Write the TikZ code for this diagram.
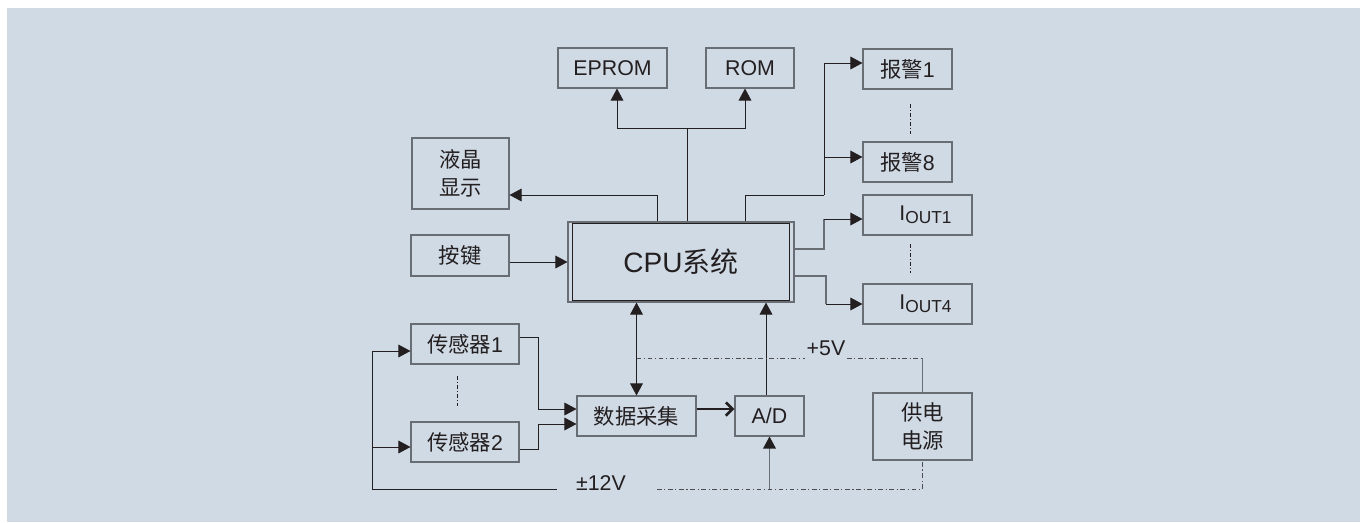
\documentclass[tikz,border=0pt]{standalone}
\usepackage{fontspec}
\setmainfont{Liberation Sans}
\newfontfamily\cjk{Noto Sans CJK SC}
\usetikzlibrary{arrows.meta,calc,positioning}
\definecolor{figBg}{RGB}{208,218,229}
\definecolor{figInk}{RGB}{35,31,32}
\definecolor{figLine}{RGB}{105,110,116}

\begin{document}
\begin{tikzpicture}[
  x=0.75pt,
  y=-0.75pt,
  >={Triangle[length=9pt,width=9.5pt]},
  font=\fontsize{16pt}{20.5pt}\selectfont,
  unit/.style={draw=figLine, line width=0.8pt, text=figInk, inner sep=0pt, minimum height=30pt, align=center},
  wire/.style={draw=figInk, line width=0.75pt},
  arr/.style={wire, ->},
  grey/.style={draw=figLine, line width=0.9pt},
  rail/.style={draw=figInk!80, line width=0.7pt, dash pattern=on 3.5pt off 2pt on 0.8pt off 2pt},
  elide/.style={draw=figInk, line width=0.6pt, dash pattern=on 3pt off 1.5pt on 0.8pt off 1.5pt},
  tag/.style={text=figInk, inner sep=1pt}
]
\useasboundingbox (0,0) rectangle (1360,522);
\fill[figBg] (7,8) rectangle (1360,522);

\node[unit, minimum width=81.75pt] (eprom) at (612.5,68) {EPROM};
\node[unit, minimum width=66pt] (rom) at (750,68) {ROM};
\node[unit, minimum width=72.75pt, minimum height=53.25pt] (lcd) at (460.5,173.5) {{\cjk 液晶}\\{\cjk 显示}};
\node[unit, minimum width=73.5pt, minimum height=30.75pt] (key) at (460,255.5) {\cjk 按键};
\node[unit, minimum width=169.5pt, minimum height=60pt, font=\fontsize{21pt}{24pt}\selectfont] (cpu) at (681,262) {CPU{\cjk 系统}};
\draw[wire] ($(cpu.north west)+(5,2)$) rectangle ($(cpu.south east)+(-5,-2)$);

\node[unit, minimum width=66.75pt] (al1) at (907.5,69) {{\cjk 报警}1};
\node[unit, minimum width=66.75pt] (al8) at (907.5,162) {{\cjk 报警}8};
\node[unit, minimum width=81.75pt] (iout1) at (917.5,215) {\hspace*{12pt}I{\fontsize{13pt}{15pt}\selectfont\raisebox{-2.5pt}{OUT1}}};
\node[unit, minimum width=81.75pt] (iout4) at (917.5,304) {\hspace*{12pt}I{\fontsize{13pt}{15pt}\selectfont\raisebox{-2.5pt}{OUT4}}};

\node[unit, minimum width=81pt] (s1) at (465,344) {{\cjk 传感器}1};
\node[unit, minimum width=81pt] (s2) at (465,442) {{\cjk 传感器}2};
\node[unit, minimum width=89.25pt] (daq) at (636.5,416) {\cjk 数据采集};
\node[unit, minimum width=51.75pt] (adc) at (769.5,416) {A/D};
\node[unit, minimum width=74.25pt, minimum height=50.25pt] (psu) at (922.5,426.5) {{\cjk 供电}\\{\cjk 电源}};

\node[tag] (v5) at (826,348) {+5V};
\node[tag] (v12) at (601,483) {±12V};

% memory bus
\coordinate (mbus) at (687,128);
\draw[wire] (cpu.north -| mbus) -- (mbus);
\draw[arr] (mbus) -| ($(eprom.south)+(4.5,0)$);
\draw[arr] (mbus) -| ($(rom.south)+(-5,0)$);

% display and keys
\coordinate (lcdb) at (657,195);
\draw[arr] (cpu.north -| lcdb) -- (lcdb) -- (lcd.east |- lcdb);
\draw[arr] (key.east |- cpu.west) -- (cpu.west);

% alarm outputs
\coordinate (alb) at (745,195);
\coordinate (alv) at (824,195);
\coordinate (al8in) at ($(al8.west)+(0,-5)$);
\draw[wire] (cpu.north -| alb) -- (alb) -- (alv);
\draw[arr] (alv) |- ($(al1.west)+(0,-6)$);
\draw[arr] (alv |- al8in) -- (al8in);
\draw[elide] ($(al1.south)+(2.5,14)$) -- ($(al8.north)+(2.5,-7)$);

% current outputs
\coordinate (i1v) at (824,249);
\coordinate (i1in) at ($(iout1.west)+(0,4)$);
\draw[grey] (cpu.east |- i1v) -- (i1v) -- (i1v |- i1in);
\draw[arr] (i1v |- i1in) -- (i1in);
\coordinate (i4v) at (826,276);
\draw[grey] (cpu.east |- i4v) -- (i4v) -- (i4v |- iout4.west);
\draw[arr] (i4v |- iout4.west) -- (iout4.west);
\draw[elide] ($(iout1.south)+(-7.5,8)$) -- ($(iout4.north)+(-7.5,-10)$);

% acquisition chain
\draw[wire, <->] (daq.north) -- (daq.north |- cpu.south);
\coordinate (adup) at ($(adc.north)+(-3.5,0)$);
\draw[arr] (adup) -- (adup |- cpu.south);
\draw[wire, line width=2pt, -{Straight Barb[length=5pt,width=10pt]}] ($(daq.east)+(0,-7)$) -- ($(adc.west)+(0,-7)$);
\draw[arr] ($(s1.east)+(0,-7)$) -- ++(19,0) |- ($(daq.west)+(0,-7)$);
\draw[arr] ($(s2.east)+(0,7)$) -- ++(19,0) |- ($(daq.west)+(0,8)$);
\draw[elide] ($(s1.south)+(-8,11)$) -- ($(s2.north)+(-8,-15)$);

% +-12V supply
\coordinate (v12l) at (557,489);
\coordinate (v12r) at (657,489);
\coordinate (lp) at (372,489);
\coordinate (s2in) at ($(s2.west)+(0,5)$);
\draw[arr] (v12l) -- (lp) |- ($(s1.west)+(0,7)$);
\draw[arr] (lp |- s2in) -- (s2in);
\draw[rail] (v12r) -- (psu.south |- v12r) -- (psu.south);
\draw[grey, -{Triangle[length=9pt,width=9.5pt,color=figInk]}] (adc.south |- v12r) -- (adc.south);

% +5V supply
\coordinate (r5) at (637,358);
\draw[rail] (daq.north |- r5) -- (v5.west |- r5);
\draw[rail] (v5.east |- r5) -- (psu.north |- r5);
\draw[grey] (psu.north |- r5) -- (psu.north);
\end{tikzpicture}
\end{document}
